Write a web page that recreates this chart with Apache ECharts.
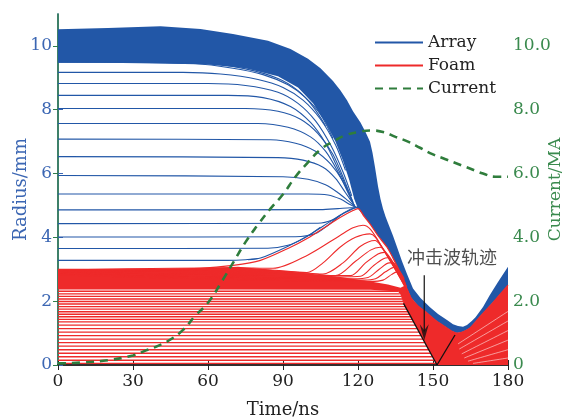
<!DOCTYPE html>
<html>
<head>
<meta charset="utf-8">
<script src="https://cdn.jsdelivr.net/npm/echarts@6/dist/echarts.min.js"></script>
<style>
html, body { margin: 0; padding: 0; background: #fff; }
#main { width: 567px; height: 419px; }
</style>
</head>
<body>
<div id="main"></div>
<script>
// current (MA) vs time (ns)
var currentT  = [0, 10, 20, 30, 35, 40, 45, 50, 55, 60, 65, 70, 75, 80, 85, 90, 95, 100, 105, 110, 115, 120, 125, 130, 135, 140, 145, 150, 155, 160, 165, 170, 175, 180];
var currentMA = [0.05, 0.08, 0.15, 0.3, 0.45, 0.6, 0.8, 1.1, 1.55, 1.95, 2.55, 3.2, 3.85, 4.4, 4.9, 5.35, 5.9, 6.35, 6.75, 7.0, 7.2, 7.3, 7.35, 7.3, 7.15, 7.0, 6.8, 6.6, 6.45, 6.3, 6.15, 6.0, 5.9, 5.9];

// dense array band: outer edge and inner edge
var arrayOuter = [[0, 10.52], [20, 10.56], [41, 10.62], [57, 10.53], [70, 10.37], [84, 10.16], [93, 9.9], [100, 9.6], [105, 9.3], [110, 8.9], [113, 8.6], [115.6, 8.3], [118, 7.95], [121, 7.6], [123, 7.3], [124.8, 7.0], [125.8, 6.65], [126.8, 6.2], [128, 5.6], [129, 5.2], [130, 4.9], [131, 4.65], [132, 4.45], [134, 4.05], [135.6, 3.7], [137.6, 3.25], [139.6, 2.85], [142, 2.4], [145, 2.1], [148.8, 1.81], [152, 1.6], [155.6, 1.41], [158, 1.28], [160, 1.22], [162, 1.2], [163.6, 1.25], [165.5, 1.38], [167, 1.5], [170, 1.82], [172.8, 2.2], [176, 2.6], [180, 3.08]];
var arrayInner = [[0, 9.47], [40, 9.47], [60, 9.42], [75, 9.3], [88, 9.05], [96, 8.7], [102, 8.2], [107, 7.6], [111, 7.0], [114, 6.4], [116.5, 5.8], [118.5, 5.2], [120, 4.9], [122.5, 4.65], [125, 4.4], [128, 4.05], [131.6, 3.69], [134, 3.35], [137, 2.88], [139, 2.5], [141, 2.13], [144, 1.85], [147.6, 1.63], [151, 1.4], [155.6, 1.16], [157.5, 1.06], [159.6, 1.0], [162, 1.04], [164.8, 1.16], [167, 1.35], [170, 1.62], [175, 2.05], [180, 2.5]];

// single array shells outside the band
var arrayShells = [
  [[0, 9.5], [60, 9.45], [75, 9.28], [88, 8.98], [96, 8.6], [102, 8.1], [107, 7.5]],
  [[0, 9.5], [55, 9.44], [70, 9.3], [82, 9.1], [92, 8.78], [99, 8.38], [105, 7.85], [110, 7.1]],
  [[0, 9.17], [50, 9.17], [65, 9.12], [80, 8.95], [90, 8.7], [98, 8.3], [105, 7.7], [111, 6.9], [115, 6.1]],
  [[0, 8.82], [60, 8.82], [75, 8.76], [88, 8.55], [96, 8.2], [103, 7.65], [109, 6.9], [114, 6.05], [117.5, 5.3]],
  [[0, 8.45], [68, 8.45], [82, 8.38], [93, 8.1], [101, 7.6], [107, 6.95], [112, 6.15], [117, 5.3]],
  [[0, 8.04], [75, 8.04], [88, 7.95], [97, 7.7], [104, 7.25], [110, 6.6], [115, 5.7], [118, 5.1]],
  [[0, 7.57], [80, 7.57], [92, 7.45], [101, 7.15], [107, 6.7], [112, 6.05], [116, 5.4], [118.5, 5.0]],
  [[0, 7.08], [85, 7.06], [95, 6.95], [103, 6.7], [109, 6.3], [114, 5.75], [118.5, 5.0]],
  [[0, 6.53], [88, 6.5], [98, 6.42], [106, 6.2], [111, 5.85], [115, 5.4], [119, 4.95]],
  [[0, 5.94], [90, 5.9], [100, 5.82], [107, 5.65], [112, 5.4], [116, 5.15], [119, 4.95]],
  [[0, 5.36], [100, 5.36], [108, 5.33], [113, 5.2], [117, 5.02], [119.5, 4.93]],
  [[0, 4.86], [105, 4.87], [112, 4.9], [117, 4.93], [120, 4.93]],
  [[0, 4.43], [104, 4.44], [110, 4.55], [114, 4.75], [117, 4.88], [120, 4.95]],
  [[0, 4.01], [95, 4.02], [103, 4.12], [108, 4.38], [113, 4.7]],
  [[0, 3.65], [84, 3.66], [92, 3.75], [99, 4.0], [105, 4.32]],
  [[0, 3.28], [68, 3.28], [75, 3.3], [80, 3.34]]
];
// array shells riding on the foam surface
var arrayOnFoam = [[76, 3.3], [81, 3.35], [93, 3.76], [100, 4.05], [106, 4.35], [113, 4.7], [118, 4.9], [120, 4.96]];

// foam outer surface
var foamTop = [[0, 3.0], [30, 3.0], [57, 3.03], [70, 3.12], [81, 3.28], [93, 3.69], [100, 3.98], [106, 4.28], [113, 4.63], [118, 4.84], [120, 4.9], [122.5, 4.65], [125, 4.4], [128, 4.05], [131.6, 3.69], [134, 3.35], [137, 2.88], [139, 2.5], [141, 2.13], [144, 1.85], [147.6, 1.63], [151, 1.4], [155.6, 1.16], [157.5, 1.06], [159.6, 1.0], [162, 1.04], [164.8, 1.16], [167, 1.35], [170, 1.62], [175, 2.05], [180, 2.5]];

// compressed foam (solid) outline
var foamCore = [[0, 3.0], [30, 3.0], [57, 3.03], [72, 3.08], [86, 2.98], [100, 2.87], [113, 2.76], [125, 2.62], [132, 2.52], [137, 2.42], [139, 2.5], [141, 2.13], [144, 1.85], [147.6, 1.63], [151, 1.4], [155.6, 1.16], [157.5, 1.06], [159.6, 1.0], [162, 1.04], [164.8, 1.16], [167, 1.35], [170, 1.62], [175, 2.05], [180, 2.5], [180, 0], [151.6, 0], [138.2, 1.93], [137, 2.2], [136, 2.3], [125, 2.36], [60, 2.37], [0, 2.37]];

// foam layers lifted by the array
var foamFan = [
  [[0, 2.98], [70, 3.05], [86, 3.03], [100, 3.45], [112.8, 4.06], [118, 4.3], [122, 4.38], [125, 4.25], [130, 3.65], [135, 3.0], [140, 2.3]],
  [[0, 2.96], [80, 3.0], [99.6, 2.9], [106, 3.2], [112.8, 3.69], [119, 4.0], [124.8, 4.11], [127, 4.0], [131, 3.5], [136, 2.85], [140, 2.3]],
  [[0, 2.94], [90, 2.93], [106, 2.85], [114, 3.2], [121, 3.72], [126.8, 3.9], [129, 3.75], [133, 3.25], [137, 2.7], [140.5, 2.2]],
  [[0, 2.92], [100, 2.86], [111, 2.8], [119, 3.25], [125, 3.6], [128.8, 3.69], [131, 3.55], [134.5, 3.1], [138, 2.6], [141, 2.15]],
  [[0, 2.9], [108, 2.8], [117, 2.8], [123, 3.2], [128, 3.48], [130.5, 3.53], [132.5, 3.4], [135.5, 3.0], [139, 2.5]],
  [[0, 2.88], [113, 2.76], [121, 2.78], [126, 3.1], [130, 3.32], [132, 3.36], [134, 3.22], [136.5, 2.9], [139.5, 2.45]],
  [[0, 2.86], [118, 2.7], [124, 2.74], [128.5, 3.0], [132.5, 3.2], [134, 3.2], [136, 3.0], [138.5, 2.65]],
  [[0, 2.84], [122, 2.66], [127, 2.7], [131, 2.92], [134.5, 3.06], [136.5, 2.95], [138.5, 2.7]],
  [[0, 2.82], [125, 2.62], [130, 2.66], [133.5, 2.84], [135.5, 2.92], [137, 2.85], [139, 2.55]]
];

// undisturbed foam layers: radius and time the shock reaches them
var foamLayerR   = [0.05, 0.15, 0.26, 0.37, 0.48, 0.59, 0.70, 0.81, 0.92, 1.03, 1.14, 1.25, 1.35, 1.43, 1.51, 1.59, 1.67, 1.75, 1.83, 1.91, 1.99, 2.07, 2.15, 2.23, 2.31];
var foamLayerEnd = [151.3, 150.6, 149.8, 149.1, 148.4, 147.6, 146.9, 146.1, 145.4, 144.6, 143.9, 143.2, 142.5, 142.0, 141.4, 140.9, 140.3, 139.8, 139.2, 138.7, 138.3, 137.8, 137.3, 136.7, 136.0];

// gaps between foam layers behind the reflected shock
var reflectedGaps = [
  [[166, 0.05], [180, 0.22]],
  [[164, 0.12], [180, 0.48]],
  [[162.5, 0.22], [180, 0.78]],
  [[161.5, 0.35], [180, 1.08]],
  [[160.5, 0.5], [180, 1.38]],
  [[160, 0.66], [180, 1.68]]
];

// shock trajectory
var shockIn  = [[138.2, 1.93], [151.6, 0]];
var shockOut = [[151.6, 0], [158.8, 0.94]];

var BLUE = '#2257a7', RED = '#ee2a2a', GREEN = '#2f7d3c';
var SERIF = 'DejaVu Serif';

function polygon(name, pts, color) {
  return {
    type: 'custom', name: name, coordinateSystem: 'cartesian2d', silent: true,
    data: [[0, 0]],
    renderItem: function (params, api) {
      return {
        type: 'polygon',
        shape: { points: pts.map(function (p) { return api.coord(p); }) },
        style: { fill: color }
      };
    }
  };
}

function line(name, data, color, width, opacity) {
  return {
    type: 'line', name: name, data: data, symbol: 'none', smooth: 0.3,
    lineStyle: { color: color, width: width || 1.1, opacity: opacity == null ? 1 : opacity },
    itemStyle: { color: color },
    silent: true
  };
}

var series = [];
series.push(polygon('foamCore', foamCore, RED));
foamLayerR.forEach(function (r, i) {
  series.push(line('Foam', [[0, r], [foamLayerEnd[i], r]], RED, 1.4));
});
reflectedGaps.forEach(function (d) { series.push(line('gap', d, '#fff', 0.9, 0.6)); });
foamFan.forEach(function (d) { series.push(line('Foam', d, RED, 1.1)); });
series.push(polygon('arrayBand', arrayOuter.concat(arrayInner.slice().reverse()), BLUE));
arrayShells.forEach(function (d) { series.push(line('Array', d, BLUE, 1.1)); });
series.push(line('Array', arrayOnFoam, BLUE, 1.1));
series.push(line('Foam', foamTop, RED, 1.2));
series.push({
  type: 'line', name: 'shock', data: shockIn, symbol: 'none', silent: true,
  lineStyle: { color: '#111', width: 1.3 }
});
series.push({
  type: 'line', name: 'shock', data: shockOut, symbol: 'none', silent: true,
  lineStyle: { color: '#111', width: 1.3 }
});
series.push({
  type: 'line', name: 'shock', data: [[146.5, 2.81], [146.5, 1.05]], symbol: 'none', silent: true,
  lineStyle: { color: '#111', width: 1.2 }
});
series.push({
  type: 'scatter', name: 'shock', silent: true,
  data: [[146.5, 1.03]],
  symbol: 'path://M0,0 L5,6 L10,0 L5,16 Z', symbolSize: [9, 16],
  itemStyle: { color: '#111' }
});
series.push({
  type: 'scatter', name: 'shock', silent: true,
  data: [[157.6, 3.38]], symbolSize: 0,
  label: {
    show: true, position: 'inside', formatter: '冲击波轨迹',
    fontFamily: 'Noto Sans CJK SC', fontSize: 18, color: '#222'
  }
});
series.push({
  type: 'line', name: 'Current', yAxisIndex: 1, symbol: 'none', smooth: true, silent: true,
  data: currentT.map(function (t, i) { return [t, currentMA[i]]; }),
  lineStyle: { color: GREEN, width: 2.6, type: [8, 6] }, itemStyle: { color: GREEN }
});

var chart = echarts.init(document.getElementById('main'));
chart.setOption({
  animation: false,
  grid: { left: 58, right: 59, top: 14, bottom: 54, containLabel: false, outerBoundsMode: 'none' },
  legend: {
    data: ['Array', 'Foam', 'Current'],
    orient: 'vertical', left: 369, top: 29,
    itemWidth: 48, itemHeight: 14, itemGap: 6,
    itemStyle: { opacity: 0 },
    textStyle: { fontFamily: SERIF, fontSize: 17, color: '#222' }
  },
  xAxis: [{
    type: 'value', min: 0, max: 180, interval: 30,
    name: 'Time/ns', nameLocation: 'middle', nameGap: 36,
    nameTextStyle: { fontFamily: SERIF, fontSize: 18, color: '#222' },
    axisLine: { lineStyle: { color: '#3a2626', width: 1.5 } },
    axisTick: { inside: true, length: 5, lineStyle: { color: '#222' } },
    axisLabel: { fontFamily: SERIF, fontSize: 17, color: '#222', margin: 8 },
    splitLine: { show: false }
  }, {
    type: 'value', position: 'top', min: 0, max: 180, interval: 30,
    axisLine: { show: true, lineStyle: { color: '#222', width: 1.5 } },
    axisTick: { inside: true, length: 5, lineStyle: { color: '#222' } },
    axisLabel: { show: false }, splitLine: { show: false }
  }],
  yAxis: [{
    type: 'value', min: 0, max: 11, interval: 2,
    name: 'Radius/mm', nameLocation: 'middle', nameGap: 28, nameMoveOverlap: false,
    nameTextStyle: { fontFamily: SERIF, fontSize: 18, color: '#3b66b3' },
    axisLine: { show: true, lineStyle: { color: '#3b66b3', width: 1.5 } },
    axisTick: { inside: true, length: 5 },
    axisLabel: { fontFamily: SERIF, fontSize: 17, color: '#3b66b3', margin: 6, showMaxLabel: false },
    splitLine: { show: false }
  }, {
    type: 'value', min: 0, max: 11, interval: 2,
    name: 'Current/MA', nameLocation: 'middle', nameGap: 39, nameMoveOverlap: false,
    nameTextStyle: { fontFamily: SERIF, fontSize: 17, color: '#3a8a4e' },
    axisLine: { show: true, lineStyle: { color: '#2f7d4a', width: 1.5 } },
    axisTick: { inside: true, length: 5 },
    axisLabel: {
      fontFamily: SERIF, fontSize: 17, color: '#3a8a4e', margin: 5, showMaxLabel: false,
      formatter: function (v) { return v === 0 ? '0' : v.toFixed(1); }
    },
    splitLine: { show: false }
  }],
  series: series
});
</script>
</body>
</html>
